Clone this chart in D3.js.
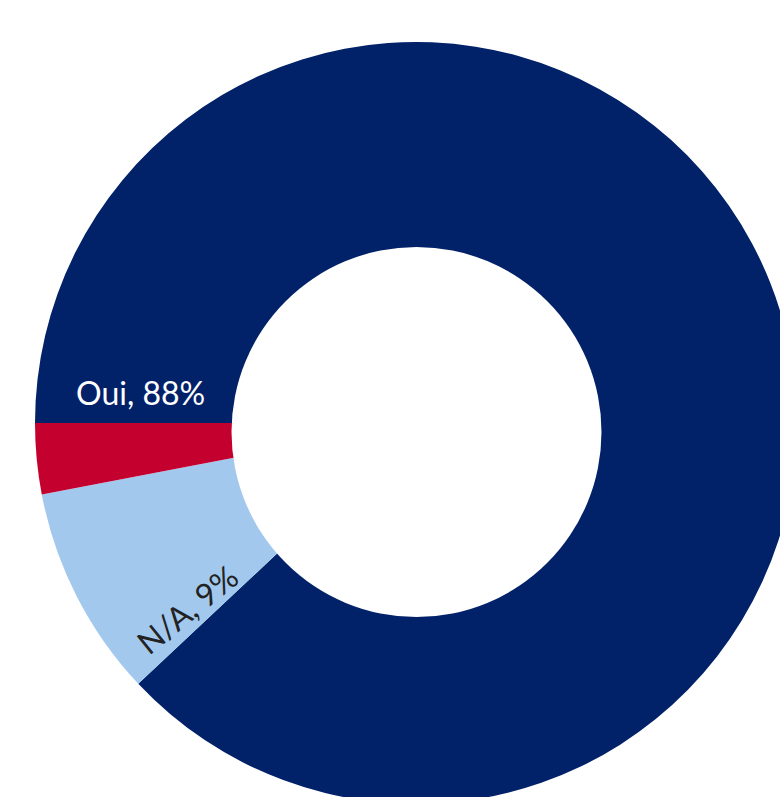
<!DOCTYPE html>
<html>
<head>
<meta charset="utf-8">
<script src="https://cdn.jsdelivr.net/npm/d3@7"></script>
<style>
  html, body { margin: 0; padding: 0; background: #fff; }
  svg { display: block; }
</style>
</head>
<body>
<div id="chart"></div>
<script>
// data
const categories = ["Oui", "N/A", "Non"];
const values = [88, 9, 3];
const colors = ["#012169", "#A3C8EE", "#C4002F"];
const showLabel = [true, true, false];
const labelColors = ["#ffffff", "#222222", "#ffffff"];

const width = 780;
const height = 797;
const cx = 416, cy = 423;
const outerR = 381;
const innerR = 185;

const svg = d3.select("#chart").append("svg")
    .attr("width", width)
    .attr("height", height)
    .style("font-family", "Lato, 'Open Sans', sans-serif");

const table = categories.map((c, i) => ({name: c, value: values[i], i: i}));

// starts at 9 o'clock, clockwise
const pie = d3.pie()
    .sort(null)
    .value(d => d.value)
    .startAngle(-Math.PI / 2)
    .endAngle(1.5 * Math.PI);

const arcs = pie(table);

const arc = d3.arc()
    .innerRadius(0)
    .outerRadius(outerR);

const g = svg.append("g")
    .attr("transform", `translate(${cx},${cy})`);

g.selectAll("path")
  .data(arcs)
  .join("path")
    .attr("fill", d => colors[d.data.i])
    .attr("d", arc);

// the hole sits a little lower than the pie centre in the original
g.append("circle")
    .attr("cx", 0.5)
    .attr("cy", 9)
    .attr("r", innerR)
    .attr("fill", "#fff");

// labels
function labelPos(d) {
    if (d.data.i === 0) {
        // horizontal, just above the start edge
        const a = d.startAngle + 0.11;
        const r = 277;
        return {x: r * Math.sin(a), y: -r * Math.cos(a), rot: 0};
    }
    // radial text near the start edge of the slice
    const a = d.startAngle + 0.072;
    const r = 295;
    return {x: r * Math.sin(a), y: -r * Math.cos(a), rot: a * 180 / Math.PI - 270};
}

g.selectAll("text.lbl")
  .data(arcs.filter(d => showLabel[d.data.i]))
  .join("text")
    .attr("class", "lbl")
    .attr("transform", d => {
        const p = labelPos(d);
        return `translate(${p.x},${p.y}) rotate(${p.rot})`;
    })
    .attr("text-anchor", "middle")
    .attr("dominant-baseline", "central")
    .attr("fill", d => labelColors[d.data.i])
    .style("font-size", "32px")
    .text(d => `${d.data.name}, ${d.data.value}%`);
</script>
</body>
</html>
